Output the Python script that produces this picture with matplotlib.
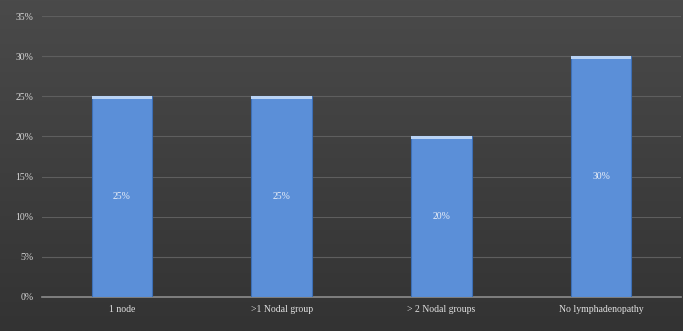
import numpy as np
import matplotlib.pyplot as plt

categories = ['1 node', '>1 Nodal group', '> 2 Nodal groups', 'No lymphadenopathy']
values = [25, 25, 20, 30]
value_labels = ['25%', '25%', '20%', '30%']
yticks = [0, 5, 10, 15, 20, 25, 30, 35]

plt.rcParams['font.family'] = ['Liberation Serif', 'DejaVu Serif']

fig = plt.figure(figsize=(6.83, 3.31), dpi=100)
fig.patch.set_facecolor('#3c3c3c')

# background gradient over whole figure
bg = fig.add_axes([0, 0, 1, 1], zorder=-10)
grad = np.linspace(0, 1, 256).reshape(-1, 1)
bg.imshow(grad, aspect='auto', cmap=plt.matplotlib.colors.LinearSegmentedColormap.from_list(
    'g', ['#4a4a4a', '#333333']), extent=[0, 1, 0, 1])
bg.axis('off')

ax = fig.add_axes([42 / 683, 34 / 331, 639 / 683, 281 / 331])
ax.set_facecolor('none')

x = np.arange(len(categories))
bars = ax.bar(x, values, width=0.38, color='#5b8fd8', edgecolor='#3d6fb5', linewidth=0.8, zorder=3)
# light highlight on bar tops
ax.bar(x, [0.35] * len(values), bottom=np.array(values) - 0.35, width=0.38,
       color='#b9d3f5', linewidth=0, zorder=4)

for xi, v, lab in zip(x, values, value_labels):
    ax.text(xi, v / 2, lab, ha='center', va='center', color='#e8eef8', fontsize=7, zorder=5)

ax.set_xlim(-0.5, len(categories) - 0.5)
ax.set_ylim(0, 35)
ax.set_yticks(yticks)
ax.set_yticklabels([f'{t}%' for t in yticks], color='#d8d8d8', fontsize=7)
ax.set_xticks(x)
ax.set_xticklabels(categories, color='#e0e0e0', fontsize=7)
ax.tick_params(axis='both', length=0, pad=6)
ax.yaxis.grid(True, color='#5e5e5e', linewidth=0.8, zorder=0)
ax.set_axisbelow(True)
for s in ['top', 'right', 'left']:
    ax.spines[s].set_visible(False)
ax.spines['bottom'].set_color('#8c8c8c')
ax.spines['bottom'].set_linewidth(1.2)

fig.savefig('out.png', dpi=100, facecolor=fig.get_facecolor())
